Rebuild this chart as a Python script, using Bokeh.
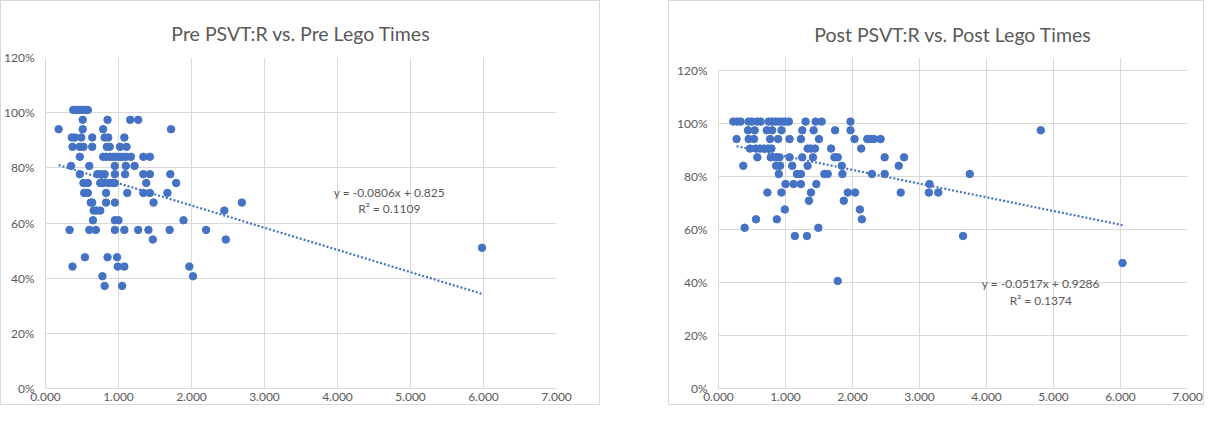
from bokeh.plotting import figure
from bokeh.layouts import row
from bokeh.models import Spacer, NumeralTickFormatter, FixedTicker, Range1d, ColumnDataSource
from bokeh.core.properties import value
from bokeh.embed import file_html
from bokeh.resources import INLINE

# ---------------- data ----------------
pre_title = "Pre PSVT:R vs. Pre Lego Times"
post_title = "Post PSVT:R vs. Post Lego Times"

pre_x = [0.38, 0.42, 0.46, 0.50, 0.54, 0.58,
         0.51, 0.85, 1.16, 1.27,
         0.18, 0.51, 0.79, 1.72,
         0.36, 0.40, 0.49, 0.64, 0.81, 0.86, 1.08,
         0.37, 0.47, 0.52, 0.64, 0.84, 0.88, 1.02, 1.11,
         0.47, 0.79, 0.83, 0.88, 0.93, 0.97, 1.02, 1.06, 1.10, 1.17, 1.34, 1.43,
         0.35, 0.60, 0.95, 1.10, 1.22,
         0.47, 0.71, 0.75, 0.81, 0.95, 1.09, 1.34, 1.43, 1.71,
         0.52, 0.58, 0.75, 0.79, 0.86, 0.92, 0.95, 1.38, 1.79,
         0.53, 0.58, 0.83, 1.12, 1.34, 1.43, 1.67,
         0.62, 0.64, 0.83, 0.95, 1.48, 2.69,
         0.66, 0.70, 0.75, 2.45,
         0.65, 0.95, 1.00, 1.89,
         0.33, 0.60, 0.69, 0.95, 1.08, 1.27, 1.41, 1.70, 2.20,
         1.47, 2.47,
         5.98,
         0.54, 0.85, 0.98,
         0.37, 0.99, 1.08, 1.97,
         0.78, 2.02,
         0.81, 1.05]
pre_y = [1.010, 1.010, 1.010, 1.010, 1.010, 1.010,
         0.974, 0.974, 0.974, 0.974,
         0.940, 0.940, 0.940, 0.940,
         0.910, 0.910, 0.910, 0.910, 0.910, 0.910, 0.910,
         0.876, 0.876, 0.876, 0.876, 0.876, 0.876, 0.876, 0.876,
         0.840, 0.840, 0.840, 0.840, 0.840, 0.840, 0.840, 0.840, 0.840, 0.840, 0.840, 0.840,
         0.807, 0.807, 0.807, 0.807, 0.807,
         0.777, 0.777, 0.777, 0.777, 0.777, 0.777, 0.777, 0.777, 0.777,
         0.745, 0.745, 0.745, 0.745, 0.745, 0.745, 0.745, 0.745, 0.745,
         0.709, 0.709, 0.709, 0.709, 0.709, 0.709, 0.709,
         0.674, 0.674, 0.674, 0.674, 0.674, 0.674,
         0.645, 0.645, 0.645, 0.645,
         0.610, 0.610, 0.610, 0.610,
         0.575, 0.575, 0.575, 0.575, 0.575, 0.575, 0.575, 0.575, 0.575,
         0.540, 0.540,
         0.510,
         0.476, 0.476, 0.476,
         0.442, 0.442, 0.442, 0.442,
         0.407, 0.407,
         0.372, 0.372]

post_x = [0.22, 0.28, 0.33, 0.45, 0.50, 0.58, 0.63, 0.75, 0.80, 0.85, 0.90, 0.95, 1.00, 1.05, 1.30, 1.45, 1.54, 1.97,
          0.44, 0.54, 0.72, 0.80, 0.94, 1.25, 1.42, 1.74, 1.97, 4.81,
          0.27, 0.45, 0.53, 0.77, 0.89, 1.06, 1.23, 1.50, 2.03, 2.22, 2.27, 2.32, 2.42,
          0.47, 0.56, 0.62, 0.68, 0.74, 0.79, 1.33, 1.38, 1.44, 1.68, 2.13,
          0.58, 0.78, 0.86, 0.91, 1.06, 1.25, 1.41, 1.73, 1.78, 2.48, 2.77,
          0.37, 0.86, 0.92, 1.10, 1.33, 1.84, 2.69,
          0.90, 1.17, 1.23, 1.58, 1.63, 1.85, 2.29, 2.48, 3.75,
          1.00, 1.12, 1.23, 1.46, 3.15,
          0.73, 0.94, 1.38, 1.93, 2.04, 2.72, 3.14, 3.28,
          1.35, 1.87,
          0.99, 2.11,
          0.56, 0.87, 2.14,
          0.39, 1.49,
          1.14, 1.32, 3.65,
          6.03,
          1.78]
post_y = [1.008, 1.008, 1.008, 1.008, 1.008, 1.008, 1.008, 1.008, 1.008, 1.008, 1.008, 1.008, 1.008, 1.008, 1.008, 1.008, 1.008, 1.008,
          0.975, 0.975, 0.975, 0.975, 0.975, 0.975, 0.975, 0.975, 0.975, 0.975,
          0.942, 0.942, 0.942, 0.942, 0.942, 0.942, 0.942, 0.942, 0.942, 0.942, 0.942, 0.942, 0.942,
          0.906, 0.906, 0.906, 0.906, 0.906, 0.906, 0.906, 0.906, 0.906, 0.906, 0.906,
          0.873, 0.873, 0.873, 0.873, 0.873, 0.873, 0.873, 0.873, 0.873, 0.873, 0.873,
          0.841, 0.841, 0.841, 0.841, 0.841, 0.841, 0.841,
          0.810, 0.810, 0.810, 0.810, 0.810, 0.810, 0.810, 0.810, 0.810,
          0.772, 0.772, 0.772, 0.772, 0.772,
          0.740, 0.740, 0.740, 0.740, 0.740, 0.740, 0.740, 0.740,
          0.709, 0.709,
          0.676, 0.676,
          0.639, 0.639, 0.639,
          0.607, 0.607,
          0.576, 0.576, 0.576,
          0.474,
          0.406]

# trendline end points (from the fitted equations)
pre_trend_x = [0.18, 5.98]
pre_trend_y = [0.810, 0.343]
post_trend_x = [0.27, 6.03]
post_trend_y = [0.915, 0.617]

pre_eq = ["y = -0.0806x + 0.825", "R\u00b2 = 0.1109"]
post_eq = ["y = -0.0517x + 0.9286", "R\u00b2 = 0.1374"]

x_ticks = [0, 1, 2, 3, 4, 5, 6, 7]
y_ticks = [0, 0.2, 0.4, 0.6, 0.8, 1.0, 1.2]

# ---------------- style ----------------
FONT = "Lato"
BLUE = "#4472C4"
GRID = "#d9d9d9"
TXT = "#595959"


def make_chart(title, xs, ys, tx, ty, eq, eq_x, eq_y, width, height,
               left, right, top, bottom, standoff, y_end):
    p = figure(width=width, height=height, output_backend="svg", toolbar_location=None,
               x_range=Range1d(0, 7), y_range=Range1d(0, y_end),
               min_border_left=left, min_border_right=right,
               min_border_top=top, min_border_bottom=bottom,
               background_fill_color="white", border_fill_color="white",
               styles={"border": "1px solid #d9d9d9"})
    p.title.text = title
    p.title.align = "center"
    p.title.text_font = FONT
    p.title.text_font_size = "19.5px"
    p.title.text_font_style = "normal"
    p.title.text_color = TXT
    p.title.standoff = standoff

    p.outline_line_color = None
    for ax in (p.xaxis[0], p.yaxis[0]):
        ax.axis_line_color = GRID
        ax.major_tick_line_color = None
        ax.minor_tick_line_color = None
        ax.major_tick_out = 0
        ax.major_tick_in = 0
        ax.minor_tick_out = 0
        ax.major_label_text_font = FONT
        ax.major_label_text_font_size = "12px"
        ax.major_label_text_color = TXT
    p.yaxis[0].bounds = (0, 1.2)
    p.xaxis[0].ticker = FixedTicker(ticks=x_ticks)
    p.yaxis[0].ticker = FixedTicker(ticks=y_ticks)
    p.xaxis[0].formatter = NumeralTickFormatter(format="0.000")
    p.yaxis[0].formatter = NumeralTickFormatter(format="0%")
    p.xaxis[0].major_label_standoff = 4
    p.yaxis[0].major_label_standoff = 11
    p.xgrid.grid_line_color = GRID
    p.ygrid.grid_line_color = GRID
    p.xgrid.ticker = FixedTicker(ticks=x_ticks)
    p.ygrid.ticker = FixedTicker(ticks=y_ticks)
    p.xgrid.bounds = (0, 1.2)

    p.line(tx, ty, line_color=BLUE, line_width=2.2, line_dash="2 2")
    p.scatter(xs, ys, size=7.5, fill_color=BLUE, line_color=BLUE)

    src = ColumnDataSource(dict(x=eq_x, y=eq_y, t=eq))
    p.text(x="x", y="y", text="t", source=src, text_align="center", text_baseline="middle",
           text_font=value(FONT), text_font_size="12px", text_color=TXT)
    return p


pre_eq_x = [4.71, 4.71]
pre_eq_y = [0.71, 0.652]
post_eq_x = [4.81, 4.81]
post_eq_y = [0.396, 0.332]

left = make_chart(pre_title, pre_x, pre_y, pre_trend_x, pre_trend_y, pre_eq,
                  pre_eq_x, pre_eq_y, 600, 405, 43, 45, 56, 18, 25, 1.2)
right = make_chart(post_title, post_x, post_y, post_trend_x, post_trend_y, post_eq,
                   post_eq_x, post_eq_y, 536, 405, 49, 18, 56, 18, 23, 1.25)

layout = row(left, Spacer(width=68), right)

open("out.html", "w").write(file_html(layout, INLINE))
